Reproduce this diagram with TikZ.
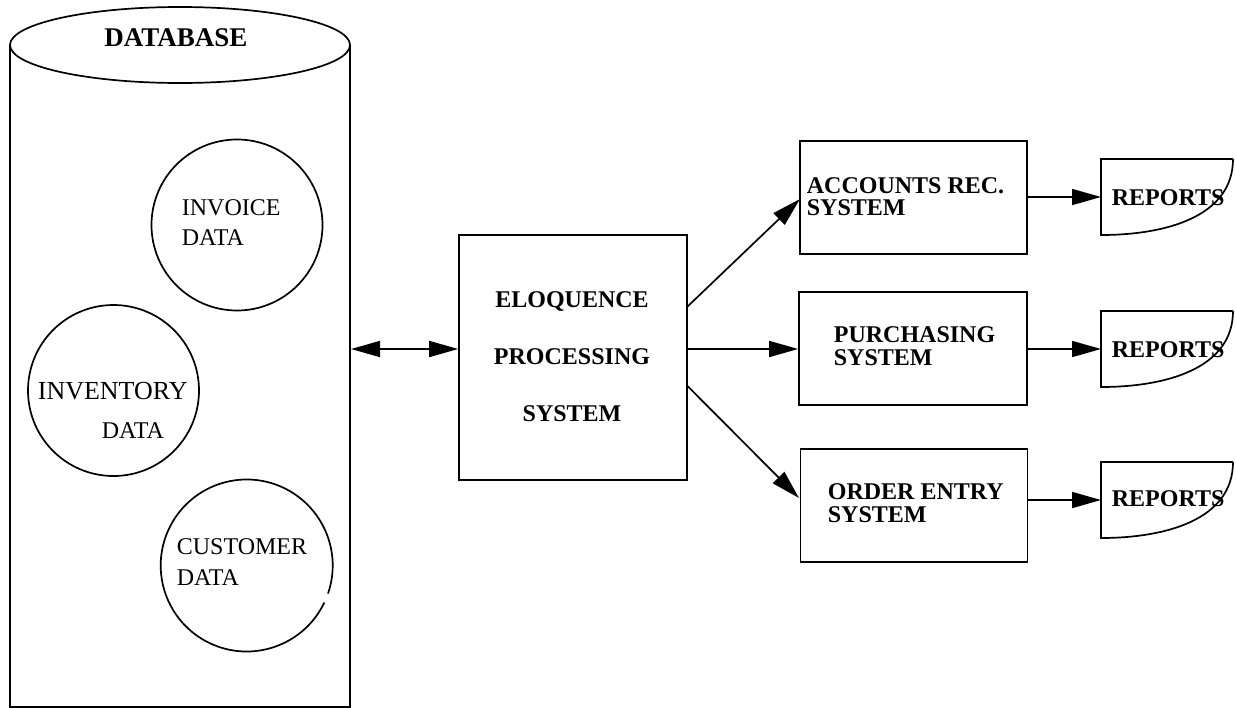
\documentclass[tikz,border=0pt]{standalone}
\usepackage{fontspec}
\setmainfont{Liberation Serif}
\usetikzlibrary{arrows.meta}
\begin{document}
\begin{tikzpicture}[x=1pt,y=-1pt, line width=1.7pt,
  lbl/.style={inner sep=0pt, anchor=base west, align=left, font=\fontsize{24}{30}\selectfont},
  blbl/.style={inner sep=0pt, anchor=base west, align=left, font=\fontsize{24}{22}\selectfont\bfseries},
  clbl/.style={inner sep=0pt, anchor=base, font=\fontsize{24}{24}\selectfont\bfseries},
  procbox/.style={draw, rectangle, inner sep=0pt},
  datacirc/.style={draw, circle, inner sep=0pt, minimum size=171pt},
  arr/.style={-{Triangle[length=29pt,width=16pt]}},
  arrtwo/.style={{Triangle[length=29pt,width=16pt]}-{Triangle[length=29pt,width=16pt]}},
]
\useasboundingbox (0,0) rectangle (1236,707);

% database cylinder
\draw (10,45) -- (10,707) -- (350,707) -- (350,45);
\draw[fill=white] (180,45) ellipse [x radius=170, y radius=38];
\node[clbl, font=\fontsize{27}{27}\selectfont\bfseries] (dbt) at (176,46) {DATABASE};
\coordinate (dbR) at (351,349);

% data circles
\node[datacirc] (inv) at (237,225) {};
\node[lbl] (invt) at (181,245) {INVOICE\\DATA};

\node[datacirc] (invn) at (113.5,390.5) {};
\node[lbl, font=\fontsize{26}{26}\selectfont] (invnt1) at (37,399) {INVENTORY};
\node[lbl] (invnt2) at (101,438) {DATA};

\coordinate (cus) at (246.7,565.5);
\draw ([shift={(25.5:86)}]cus) arc [start angle=25.5, end angle=379, radius=86];
\node[lbl, font=\fontsize{24}{31}\selectfont] (cust) at (176,585) {CUSTOMER\\DATA};

% processing system
\node[procbox, minimum width=228pt, minimum height=245pt] (elo) at (573,357.5) {};
\node[clbl] (elot1) at (572,307) {ELOQUENCE};
\node[clbl] (elot2) at (572,364) {PROCESSING};
\node[clbl] (elot3) at (572,421) {SYSTEM};

\draw[arrtwo] (dbR) -- (elo.west |- dbR);

% subsystems
\node[procbox, minimum width=227pt, minimum height=113pt] (acc) at (913.5,197.5) {};
\node[blbl, font=\fontsize{24}{21.5}\selectfont\bfseries] (acct) at (806,215) {ACCOUNTS REC.\\SYSTEM};

\node[procbox, minimum width=228pt, minimum height=113pt] (pur) at (913,348.5) {};
\node[blbl, font=\fontsize{24}{22.5}\selectfont\bfseries] (purt) at (833,365) {PURCHASING\\SYSTEM};

\node[procbox, minimum width=227pt, minimum height=113pt] (ord) at (914,505.5) {};
\node[blbl, font=\fontsize{24}{23.5}\selectfont\bfseries] (ordt) at (827,522.5) {ORDER ENTRY\\SYSTEM};

\coordinate (e1) at (687,307);
\coordinate (e2) at (687,349);
\coordinate (e3) at (687,385.5);
\coordinate (a1) at (800,199);
\coordinate (a3) at (799,498);
\draw[arr] (e1) -- (a1);
\draw[arr] (e2) -- (pur.west |- e2);
\draw[arr] (e3) -- (a3);

% reports
\draw (1233,159) -- (1101,159) -- (1101,235) .. controls (1165,235) and (1233,217) .. (1233,159);
\coordinate (r1) at (1101,197);
\node[blbl] (r1t) at (1111,205) {REPORTS};

\draw (1233,311) -- (1101,311) -- (1101,387) .. controls (1165,387) and (1233,369) .. (1233,311);
\coordinate (r2) at (1101,349);
\node[blbl] (r2t) at (1111,357) {REPORTS};

\draw (1233,462) -- (1101,462) -- (1101,538) .. controls (1165,538) and (1233,520) .. (1233,462);
\coordinate (r3) at (1101,500);
\node[blbl] (r3t) at (1111,506) {REPORTS};

\draw[arr] (acc.east |- r1) -- (r1);
\draw[arr] (pur.east |- r2) -- (r2);
\draw[arr] (ord.east |- r3) -- (r3);
\end{tikzpicture}
\end{document}
